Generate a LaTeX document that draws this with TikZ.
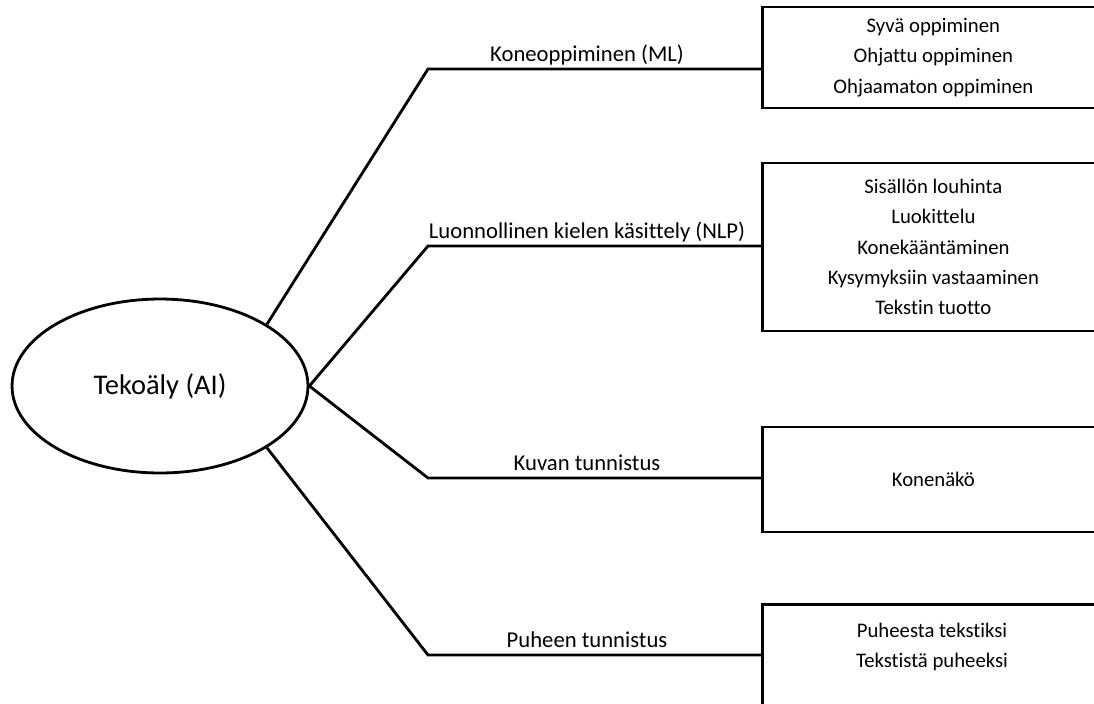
\documentclass[tikz,border=0pt]{standalone}
\usepackage{fontspec}
\setmainfont{Carlito}[Ligatures=NoCommon]
\usetikzlibrary{shapes.geometric}

\begin{document}
\begin{tikzpicture}[x=0.02cm,y=-0.02cm,
  branch/.style={line width=1.6pt},
  topic/.style={draw,line width=1.6pt,ellipse,minimum width=5.92cm,minimum height=3.48cm,inner sep=0pt,font=\fontsize{16.2}{19}\selectfont},
  subbox/.style={draw,line width=1.6pt,rectangle,minimum width=6.84cm,anchor=west,align=center,inner sep=0pt,font=\fontsize{11.8}{17.2}\selectfont},
  subtext/.style={align=center,inner sep=0pt,font=\fontsize{11.8}{17.2}\selectfont},
  tag/.style={anchor=base,inner sep=0pt,font=\fontsize{12.9}{15}\selectfont}]
\useasboundingbox (0,0) rectangle (1094,703);
\clip (0,0) rectangle (1094,703);
\begin{scope}[branch]
\node[topic] (ai) at (160,386) {Tekoäly (AI)};

\node[subbox,minimum height=2.02cm] (ml) at (761,57.5) {Syvä oppiminen\\Ohjattu oppiminen\\Ohjaamaton oppiminen};
\node[subbox,minimum height=3.36cm] (nlp) at (761,247) {Sisällön louhinta\\Luokittelu\\Konekääntäminen\\Kysymyksiin vastaaminen\\Tekstin tuotto};
\node[subbox,minimum height=2.1cm] (cv) at (761,479.5) {Konenäkö};
\node[subbox,minimum height=2.6cm,anchor=north west] (sp) at (761,603) {};
\node[subtext] (sptext) at (932,647) {Puheesta tekstiksi\\Tekstistä puheeksi};

\coordinate (k1) at (428,69);
\coordinate (k2) at (428,246);
\coordinate (k3) at (428,478);
\coordinate (k4) at (428,655);

\draw (ai.30.6) -- (k1) -- (k1 -| ml.west);
\draw (ai.east) -- (k2) -- (k2 -| nlp.west);
\draw (ai.east) -- (k3) -- (k3 -| cv.west);
\draw (ai.-30.6) -- (k4) -- (k4 -| sp.west);

\node[tag] (t1) at (587,61) {Koneoppiminen (ML)};
\node[tag] (t2) at (587,238) {Luonnollinen kielen käsittely (NLP)};
\node[tag] (t3) at (587,470) {Kuvan tunnistus};
\node[tag] (t4) at (587,647) {Puheen tunnistus};
\end{scope}
\end{tikzpicture}
\end{document}
